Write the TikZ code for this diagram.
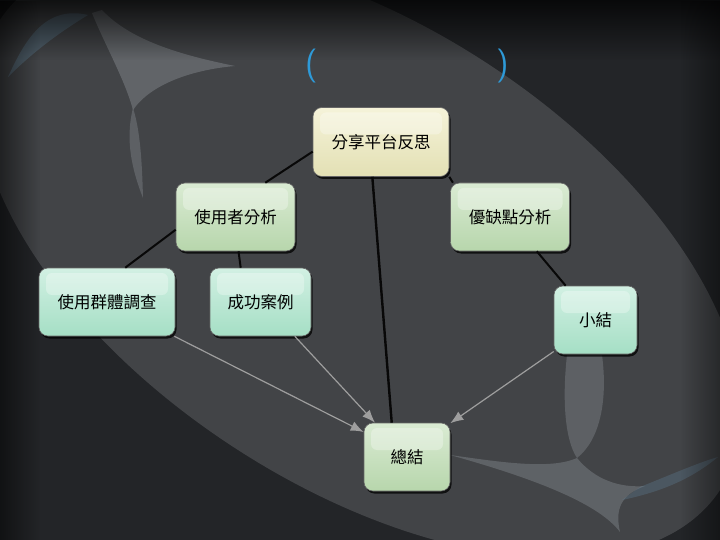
\documentclass[tikz,border=0pt]{standalone}
\usepackage{fontspec}
\newfontfamily\cjk{Noto Sans CJK TC}
\usetikzlibrary{arrows.meta,fadings,shadows}
\definecolor{bgbase}{HTML}{232528}
\definecolor{bgoval}{HTML}{424447}
\definecolor{swoosh}{HTML}{9CA2A8}
\definecolor{swooshblue}{HTML}{5E7D92}
\definecolor{titleblue}{HTML}{2E9AD8}
\definecolor{link}{HTML}{080808}
\definecolor{arrowgrey}{HTML}{9E9E9E}
\definecolor{creamtop}{HTML}{F5F3D9}
\definecolor{creambot}{HTML}{E3E0B4}
\definecolor{greentop}{HTML}{DAEBD3}
\definecolor{greenbot}{HTML}{B7D6AC}
\definecolor{minttop}{HTML}{D2F0E3}
\definecolor{mintbot}{HTML}{A5DFC5}
\tikzset{
  box/.style={
    rounded corners=9pt,
    draw=black!60,
    line width=0.6pt,
    minimum height=68pt,
    inner sep=2pt,
    align=center,
    font=\cjk\fontsize{16.5}{19}\selectfont,
    text=black,
    drop shadow={shadow xshift=1.5pt,shadow yshift=-2.5pt,opacity=.75,fill=black},
    path picture={
      \fill[white,opacity=.3,rounded corners=6pt]
        ([xshift=7pt,yshift=-5pt]path picture bounding box.north west) rectangle
        ([xshift=-7pt,yshift=-27pt]path picture bounding box.north east);
    }
  },
  creambox/.style={box,top color=creamtop,bottom color=creambot},
  greenbox/.style={box,top color=greentop,bottom color=greenbot},
  mintbox/.style={box,top color=minttop,bottom color=mintbot},
  link/.style={
    draw=link,
    line width=2pt
  },
  feed/.style={
    -{Latex[length=13pt,width=10pt]},
    draw=arrowgrey,
    line width=1.2pt
  },
  paren/.style={
    font=\sffamily\fontsize{34}{36}\selectfont,
    text=titleblue,
    inner sep=0pt
  }
}

\begin{document}
\begin{tikzpicture}[x=1pt,y=-1pt]
  \useasboundingbox (0,0) rectangle (720,540);

  % background
  \fill[bgbase] (0,0) rectangle (720,540);
  \fill[bgoval,rotate around={-33:(360,255)}]
    (360,255) ellipse [x radius=430, y radius=230];
  \fill[swooshblue,opacity=.45] (8,77) .. controls (25,40) and (45,5) .. (88,15)
    .. controls (55,35) and (30,55) .. cycle;
  \fill[swoosh,opacity=.35] (92,13) .. controls (105,45) and (125,80) .. (133,110)
    .. controls (150,85) and (190,70) .. (235,66)
    .. controls (180,55) and (130,40) .. (102,10) -- cycle;
  \fill[swoosh,opacity=.3] (133,108) .. controls (125,140) and (132,170) .. (143,198)
    .. controls (142,160) and (140,130) .. cycle;
  \fill[swoosh,opacity=.3] (567,355) .. controls (562,400) and (565,440) .. (577,458)
    .. controls (600,440) and (608,400) .. (602,355) -- cycle;
  \fill[swoosh,opacity=.32] (450,455) .. controls (500,462) and (550,470) .. (577,458)
    .. controls (595,480) and (620,488) .. (645,486)
    .. controls (620,495) and (615,510) .. (620,532)
    .. controls (600,505) and (540,480) .. cycle;
  \fill[swooshblue,opacity=.35] (640,487) .. controls (670,475) and (700,462) .. (718,457)
    .. controls (690,480) and (660,492) .. (622,500) -- cycle;
  \fill[black,opacity=.75,path fading=south] (0,0) rectangle (720,60);
  \fill[black,opacity=.5,path fading=east] (0,0) rectangle (40,540);
  \fill[black,opacity=.4,path fading=west] (680,0) rectangle (720,540);

  % title
  \node[paren] (title-open) at (312,66) {(};
  \node[paren] (title-close) at (503,66) {)};

  % boxes
  \node[creambox,minimum width=136pt,minimum height=69pt] (map-share) at (381,142) {分享平台反思};
  \node[greenbox,minimum width=119pt] (map-users) at (235.5,217) {使用者分析};
  \node[greenbox,minimum width=119pt] (map-pros) at (510,217) {優缺點分析};
  \node[mintbox,minimum width=136pt] (map-survey) at (107,302) {使用群體調查};
  \node[mintbox,minimum width=101pt] (map-cases) at (260.5,302) {成功案例};
  \node[mintbox,minimum width=83pt] (map-summary) at (595.5,320) {小結};
  \node[greenbox,minimum width=86pt] (map-total) at (407,457) {總結};

  \draw[link] (map-share.188) -- (map-users.49);
  \draw[link,line width=2.4pt] (map-share.256) -- (map-total.114);
  \draw[link] (map-share.333) -- (map-pros.149);
  \draw[link] (map-users.192) -- (map-survey.62);
  \draw[link] (map-users.275) -- (map-cases.120);
  \draw[link] (map-pros.308) -- (map-summary.131);
  \draw[feed] (map-survey.333) -- (map-total.150);
  \draw[feed] (map-cases.315) -- (map-total.133);
  \draw[feed] (map-summary.217) -- (map-total.38);
\end{tikzpicture}
\end{document}
